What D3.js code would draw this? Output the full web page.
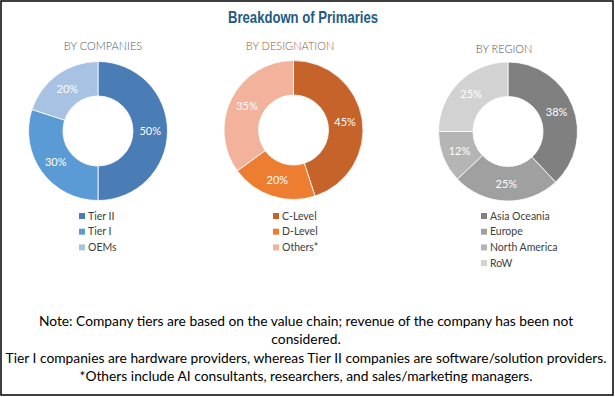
<!DOCTYPE html>
<html>
<head>
<meta charset="utf-8">
<script src="https://cdn.jsdelivr.net/npm/d3@7"></script>
<style>
  body { margin: 0; background: #fff; }
  text { font-family: Lato, "Open Sans", sans-serif; }
</style>
</head>
<body>
<div class="chart"></div>
<script>
// chart data
var companyLabels = ["Tier II", "Tier I", "OEMs"];
var companyValues = [50, 30, 20];
var designationLabels = ["C-Level", "D-Level", "Others*"];
var designationValues = [45, 20, 35];
var regionLabels = ["Asia Oceania", "Europe", "North America", "RoW"];
var regionValues = [38, 25, 12, 25];

var title = "Breakdown of Primaries";
var notes = [
    "Note: Company tiers are based on the value chain; revenue of the company has been not",
    "considered.",
    "Tier I companies are hardware providers, whereas Tier II companies are software/solution providers.",
    "*Others include AI consultants, researchers, and sales/marketing managers."
];

var width = 615, height = 397;

var svg = d3.select(".chart")
    .append("svg")
    .attr("width", width)
    .attr("height", height);

// outer frame
svg.append("rect")
    .attr("x", 1)
    .attr("y", 1)
    .attr("width", width - 3)
    .attr("height", height - 3)
    .attr("fill", "#fff")
    .attr("stroke", "#000")
    .attr("stroke-width", 1.5);

// title is a condensed bold face, squeeze it to the reference width
svg.append("text")
    .attr("x", 303)
    .attr("y", 22.5)
    .attr("text-anchor", "middle")
    .attr("textLength", 150)
    .attr("lengthAdjust", "spacingAndGlyphs")
    .style("font-family", "'Liberation Sans Narrow', 'Arial Narrow', 'Liberation Sans', sans-serif")
    .style("font-weight", "bold")
    .style("font-size", "17px")
    .attr("fill", "#1f5a85")
    .text(title);

var panels = [
    { title: "BY COMPANIES", titleX: 103, titleY: 50, titleColor: "#4a5a70",
      cx: 98, cy: 131, labels: companyLabels, values: companyValues,
      colors: ["#4a7db6", "#5b9bd5", "#a8c2e3"], legendX: 79 },
    { title: "BY DESIGNATION", titleX: 290, titleY: 50, titleColor: "#8a5640",
      cx: 293.5, cy: 130, labels: designationLabels, values: designationValues,
      colors: ["#c6632a", "#ed7d31", "#f2b29b"], legendX: 273 },
    { title: "BY REGION", titleX: 504, titleY: 53, titleColor: "#505050",
      cx: 508, cy: 131.5, labels: regionLabels, values: regionValues,
      colors: ["#808080", "#a0a0a0", "#b5b5b5", "#d2d2d2"], legendX: 481 }
];

var pie = d3.pie().sort(null).value(function (d) { return d; });
var arc = d3.arc().innerRadius(35).outerRadius(69.5);

panels.forEach(function (p) {
    svg.append("text")
        .attr("x", p.titleX)
        .attr("y", p.titleY)
        .attr("text-anchor", "middle")
        .style("font-size", "11px")
        .style("font-weight", 300)
        .attr("fill", p.titleColor)
        .text(p.title);

    var color = d3.scaleOrdinal().domain(p.labels).range(p.colors);

    var g = svg.append("g")
        .attr("transform", "translate(" + p.cx + "," + p.cy + ")");

    var arcs = pie(p.values);

    g.selectAll("path")
        .data(arcs)
        .enter()
        .append("path")
        .attr("d", arc)
        .attr("fill", function (d, i) { return color(p.labels[i]); })
        .attr("stroke", "#fff")
        .attr("stroke-width", 0.8);

    g.selectAll("text")
        .data(arcs)
        .enter()
        .append("text")
        .attr("transform", function (d) { return "translate(" + arc.centroid(d) + ")"; })
        .attr("dy", "0.35em")
        .attr("text-anchor", "middle")
        .style("font-size", "11px")
        .attr("fill", "#fff")
        .text(function (d) { return d.data + "%"; });

    // legend
    var y = d3.scalePoint().domain(p.labels).range([0, (p.labels.length - 1) * 15.7]);
    var leg = svg.append("g")
        .attr("transform", "translate(" + p.legendX + ",216)");
    leg.selectAll("rect")
        .data(p.labels)
        .enter()
        .append("rect")
        .attr("x", 0)
        .attr("y", function (d) { return y(d) - 3; })
        .attr("width", 6)
        .attr("height", 6)
        .attr("fill", function (d) { return color(d); });
    leg.selectAll("text")
        .data(p.labels)
        .enter()
        .append("text")
        .attr("x", 9)
        .attr("y", function (d) { return y(d); })
        .attr("dy", "0.35em")
        .style("font-size", "10.5px")
        .attr("fill", "#404040")
        .text(function (d) { return d; });
});

// notes
svg.selectAll(".note")
    .data(notes)
    .enter()
    .append("text")
    .attr("class", "note")
    .attr("x", 306)
    .attr("y", function (d, i) { return 326 + i * 18.3; })
    .attr("text-anchor", "middle")
    .style("font-size", "13.8px")
    .attr("fill", "#000")
    .text(function (d) { return d; });
</script>
</body>
</html>
